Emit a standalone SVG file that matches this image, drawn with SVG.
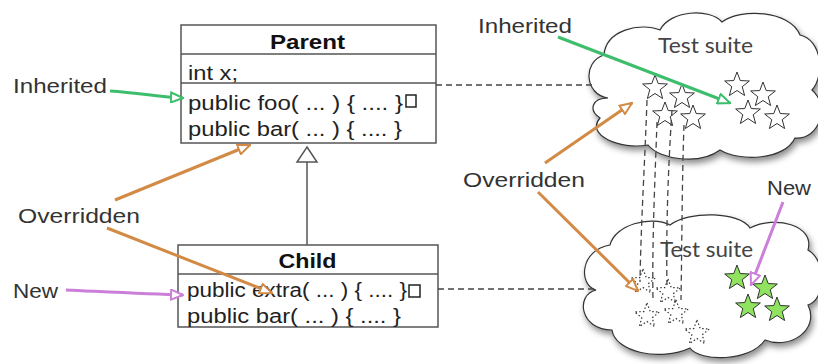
<svg xmlns="http://www.w3.org/2000/svg" width="818" height="364" viewBox="0 0 818 364">
<style>
.lbl{font-family:"Liberation Sans",Arial,sans-serif;font-size:21px;fill:#333}
.cls{font-family:"Liberation Sans",Arial,sans-serif;font-size:20px;fill:#222}
.ttl{font-family:"Liberation Sans",Arial,sans-serif;font-size:20px;font-weight:bold;fill:#111}
.suite{font-family:Lato,"Open Sans",sans-serif;font-size:21px;fill:#444}
.box{fill:#fff;stroke:#555;stroke-width:1.5}
.sep{stroke:#555;stroke-width:1.5}
.cloud{fill:#fff;stroke:#333;stroke-width:1.2}
.dash{fill:none;stroke:#444;stroke-width:1.3;stroke-dasharray:6 4}
.star{fill:#fff;stroke:#333;stroke-width:1}
.ghost{fill:none;stroke:#333;stroke-width:1.2;stroke-dasharray:1.5 2.2}
.gstar{fill:#8fe35f;stroke:#333;stroke-width:1}
.ag{fill:none;stroke:#3dbe6c;stroke-width:3}
.ao{fill:none;stroke:#d28a45;stroke-width:3}
.ap{fill:none;stroke:#cc7fd9;stroke-width:3}
</style>
<defs>
<filter id="sh" x="-10%" y="-10%" width="130%" height="140%">
<feDropShadow dx="2" dy="4" stdDeviation="3" flood-color="#000" flood-opacity="0.45"/>
</filter>
<path id="star" d="M0,-13 L3.23,-4.45 L12.36,-4.02 L5.23,1.7 L7.64,10.52 L0,5.5 L-7.64,10.52 L-5.23,1.7 L-12.36,-4.02 L-3.23,-4.45 Z"/>
<marker id="mg" viewBox="0 0 14 12" refX="13" refY="6" markerWidth="14" markerHeight="12" markerUnits="userSpaceOnUse" orient="auto"><path d="M1,1 L13,6 L1,11 Z" fill="#fff" stroke="#3dbe6c" stroke-width="2"/></marker>
<marker id="mo" viewBox="0 0 14 12" refX="13" refY="6" markerWidth="14" markerHeight="12" markerUnits="userSpaceOnUse" orient="auto"><path d="M1,1 L13,6 L1,11 Z" fill="#fff" stroke="#d28a45" stroke-width="2"/></marker>
<marker id="mp" viewBox="0 0 14 12" refX="13" refY="6" markerWidth="14" markerHeight="12" markerUnits="userSpaceOnUse" orient="auto"><path d="M1,1 L13,6 L1,11 Z" fill="#fff" stroke="#cc7fd9" stroke-width="2"/></marker>
</defs>

<g id="cloud-top">
<path class="cloud" filter="url(#sh)" d="M608,98 C585,95 582,62 604,55 C606,30 640,22 660,30 C670,10 710,8 722,22 C740,8 790,10 800,35 C822,40 825,75 812,90 C830,105 820,140 795,138 C785,160 740,162 720,150 C700,165 660,160 648,145 C620,150 585,135 600,118 C588,110 592,98 608,98 Z"/>
<text class="suite" x="658" y="53" textLength="95" lengthAdjust="spacingAndGlyphs">Test suite</text>
<use href="#star" class="star" x="655" y="88"/>
<use href="#star" class="star" x="682" y="97"/>
<use href="#star" class="star" x="665" y="115"/>
<use href="#star" class="star" x="693" y="118"/>
<use href="#star" class="star" x="737" y="85"/>
<use href="#star" class="star" x="763" y="95"/>
<use href="#star" class="star" x="748" y="113"/>
<use href="#star" class="star" x="777" y="118"/>
</g>

<g id="cloud-bottom">
<path class="cloud" filter="url(#sh)" d="M596,290 C578,285 580,250 610,245 C615,225 650,215 670,225 C690,210 740,212 750,228 C775,215 815,225 808,250 C828,262 825,300 808,305 C820,330 790,350 765,340 C750,362 700,362 690,348 C660,362 615,352 612,330 C580,330 575,295 596,290 Z"/>
<text class="suite" x="660" y="257" textLength="93" lengthAdjust="spacingAndGlyphs">Test suite</text>
<use href="#star" class="ghost" x="643" y="282"/>
<use href="#star" class="ghost" x="668" y="292"/>
<use href="#star" class="ghost" x="647" y="316"/>
<use href="#star" class="ghost" x="676" y="313"/>
<use href="#star" class="ghost" x="697" y="333"/>
<use href="#star" class="gstar" x="737" y="278"/>
<use href="#star" class="gstar" x="765" y="288"/>
<use href="#star" class="gstar" x="748" y="307"/>
<use href="#star" class="gstar" x="777" y="310"/>
</g>

<g id="parent">
<rect class="box" x="181" y="25" width="255" height="118"/>
<line class="sep" x1="181" y1="54" x2="436" y2="54"/>
<line class="sep" x1="181" y1="83" x2="436" y2="83"/>
<text class="ttl" x="307.5" y="49" text-anchor="middle" textLength="75" lengthAdjust="spacingAndGlyphs">Parent</text>
<text class="cls" x="188" y="80" textLength="50" lengthAdjust="spacingAndGlyphs">int x;</text>
<text class="cls" x="188" y="110" textLength="215" lengthAdjust="spacingAndGlyphs">public foo( ... ) { .... }</text>
<rect x="406" y="95" width="10" height="12" fill="none" stroke="#222" stroke-width="1.5"/>
<text class="cls" x="188" y="136" textLength="214" lengthAdjust="spacingAndGlyphs">public bar( ... ) { .... }</text>
</g>

<g id="child">
<rect class="box" x="178" y="245" width="260" height="82"/>
<line class="sep" x1="178" y1="274" x2="438" y2="274"/>
<text class="ttl" x="307.5" y="268" text-anchor="middle" textLength="58" lengthAdjust="spacingAndGlyphs">Child</text>
<text class="cls" x="187" y="297" textLength="220" lengthAdjust="spacingAndGlyphs">public extra( ... ) { .... }</text>
<rect x="409" y="285" width="11" height="12" fill="none" stroke="#222" stroke-width="1.5"/>
<text class="cls" x="187" y="323" textLength="214" lengthAdjust="spacingAndGlyphs">public bar( ... ) { .... }</text>
</g>

<g id="label-inherited-left"><text class="lbl" x="13" y="93" textLength="94" lengthAdjust="spacingAndGlyphs">Inherited</text></g>
<g id="label-overridden-left"><text class="lbl" x="18" y="223" textLength="122" lengthAdjust="spacingAndGlyphs">Overridden</text></g>
<g id="label-new-left"><text class="lbl" x="13" y="298" textLength="45" lengthAdjust="spacingAndGlyphs">New</text></g>
<g id="label-inherited-top"><text class="lbl" x="478" y="33" textLength="94" lengthAdjust="spacingAndGlyphs">Inherited</text></g>
<g id="label-overridden-right"><text class="lbl" x="463" y="187" textLength="122" lengthAdjust="spacingAndGlyphs">Overridden</text></g>
<g id="label-new-right"><text class="lbl" x="767" y="195" textLength="44" lengthAdjust="spacingAndGlyphs">New</text></g>

<g id="connectors">
<line x1="307" y1="162" x2="307" y2="245" stroke="#555" stroke-width="1.5"/>
<path d="M307,147 L317,162 L297,162 Z" fill="#fff" stroke="#555" stroke-width="1.5"/>
<line class="dash" x1="436" y1="85" x2="592" y2="85"/>
<line class="dash" x1="438" y1="289" x2="594" y2="289"/>
<path class="dash" d="M647,100 C645,160 641,220 640,282"/>
<path class="dash" d="M657,122 C655,180 652,240 653,300"/>
<path class="dash" d="M672,110 C668,170 666,230 667,285"/>
<path class="dash" d="M684,125 C682,180 682,240 681,300"/>
<path class="ag" d="M110,91 C140,93 160,97 183,98" marker-end="url(#mg)"/>
<path class="ap" d="M66,290 C110,292 150,294 183,295" marker-end="url(#mp)"/>
<line class="ao" x1="115" y1="200" x2="250" y2="145" marker-end="url(#mo)"/>
<line class="ao" x1="107" y1="228" x2="272" y2="293" marker-end="url(#mo)"/>
<line class="ag" x1="558" y1="37" x2="730" y2="103" marker-end="url(#mg)"/>
<line class="ao" x1="545" y1="163" x2="632" y2="103" marker-end="url(#mo)"/>
<line class="ao" x1="538" y1="192" x2="638" y2="291" marker-end="url(#mo)"/>
<line class="ap" x1="783" y1="202" x2="751" y2="285" marker-end="url(#mp)"/>
</g>
</svg>
